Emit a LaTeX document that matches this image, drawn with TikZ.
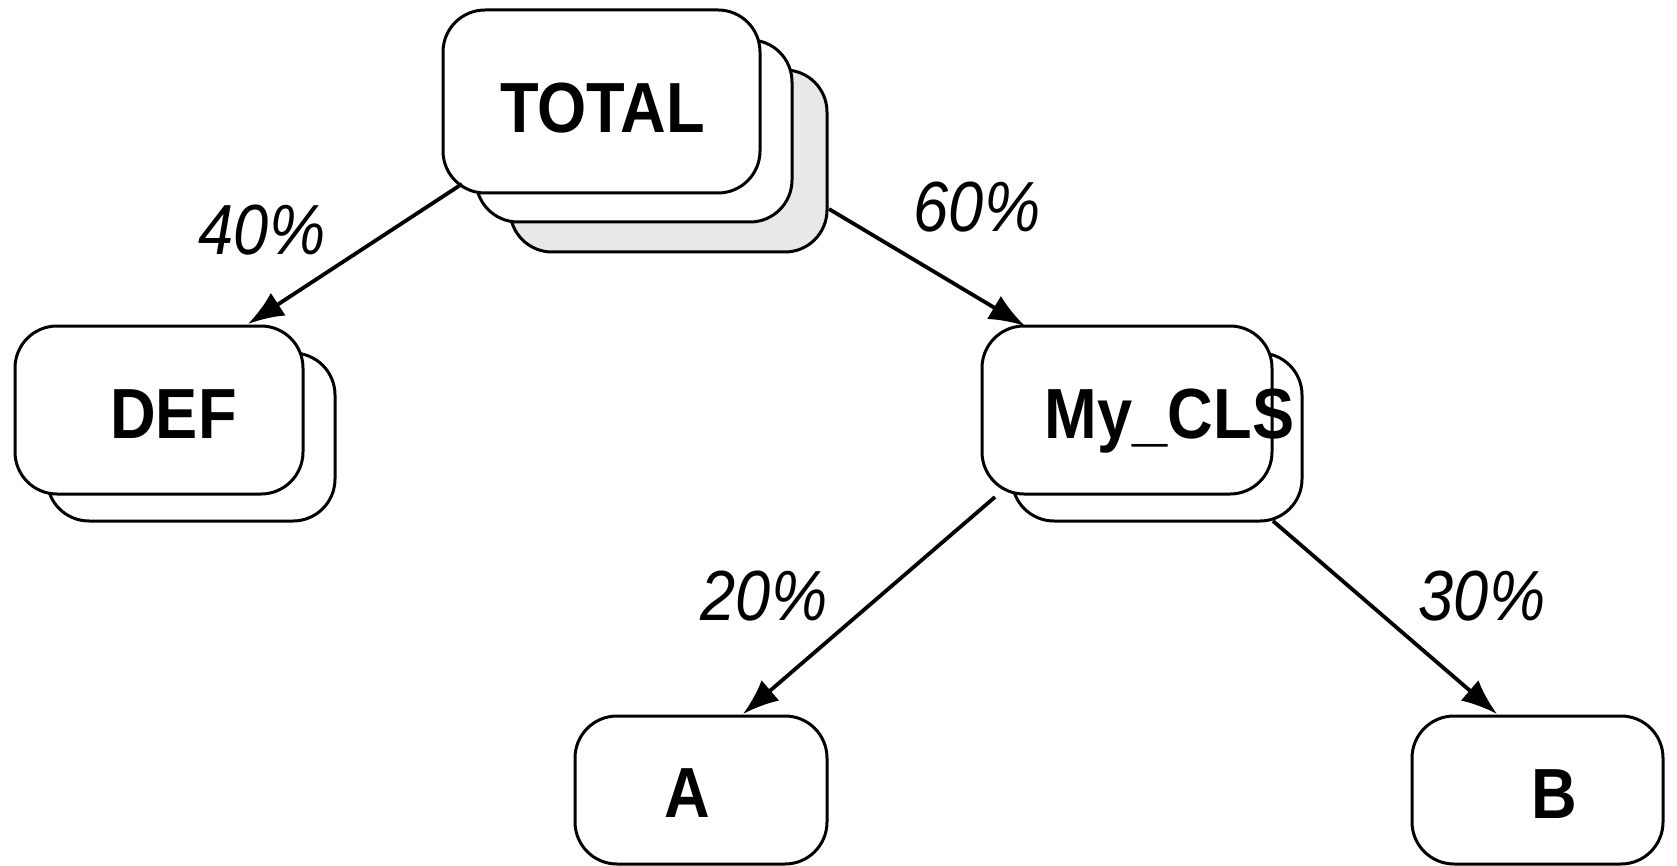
\documentclass[tikz,border=0pt]{standalone}
\usepackage{fontspec}
\setmainfont{Liberation Sans}
\usepackage{graphicx}
\usetikzlibrary{arrows.meta,calc}
\begin{document}
\begin{tikzpicture}[x=1pt,y=-1pt,
  box/.style={draw=black,line width=3pt,rounded corners=42pt,outer sep=0pt,inner sep=0pt},
  backbox/.style={box,fill=gray!18},
  frontbox/.style={box,fill=white},
  txt/.style={inner sep=0pt,outer sep=0pt,anchor=base,font=\fontsize{71}{80}\selectfont\bfseries},
  pct/.style={inner sep=0pt,outer sep=0pt,anchor=base,font=\fontsize{71}{80}\selectfont\itshape},
  arr/.style={line width=3.8pt,-{Latex[length=36pt,width=27pt]}}]
\useasboundingbox (0,0) rectangle (1677,866);
% TOTAL stack
\node[backbox,minimum width=317pt,minimum height=182pt] (totalB) at (668.5,161) {};
\node[frontbox,minimum width=316pt,minimum height=182pt] (totalM) at (634,131) {};
\node[frontbox,minimum width=317pt,minimum height=183pt] (totalF) at (601.5,101.5) {};
\node[txt] (ttotal) at (602.5,133) {\scalebox{0.89}[1]{TOTAL}};
% DEF
\node[frontbox,minimum width=288pt,minimum height=168pt] (defB) at (191,437) {};
\node[frontbox,minimum width=288pt,minimum height=168pt] (def) at (159,410) {};
\node[txt] (tdef) at (173.5,438) {\scalebox{0.89}[1]{DEF}};
% My_CLS
\node[frontbox,minimum width=290pt,minimum height=168pt] (clsB) at (1157,437) {};
\node[frontbox,minimum width=290pt,minimum height=168pt] (cls) at (1127,410) {};
\node[txt] (tcls) at (1169.5,438) {\scalebox{0.89}[1]{My\_CLS}};
% A and B
\node[frontbox,minimum width=252pt,minimum height=148pt] (a) at (701,790) {};
\node[txt] (ta) at (687.5,817) {\scalebox{0.89}[1]{A}};
\node[frontbox,minimum width=251pt,minimum height=148pt] (b) at (1537.5,790) {};
\node[txt] (tb) at (1554,818) {\scalebox{0.89}[1]{B}};
% arrows
\draw[arr] ($(totalF.south west)+(19,-9)$) -- ($(def.north)+(89,-2)$);
\draw[arr] ($(totalB.east)+(2,48)$) -- ($(cls.north)+(-102,0)$);
\draw[arr] ($(cls.south west)+(13,3)$) -- ($(a.north)+(42,-2)$);
\draw[arr] ($(clsB.south east)+(-29,0)$) -- ($(b.north)+(-40.5,-2)$);
% labels
\node[pct] (p40) at (262,255) {\scalebox{0.89}[1]{40\%}};
\node[pct] (p60) at (977,232) {\scalebox{0.89}[1]{60\%}};
\node[pct] (p20) at (764,620) {\scalebox{0.89}[1]{20\%}};
\node[pct] (p30) at (1482,620) {\scalebox{0.89}[1]{30\%}};
\end{tikzpicture}
\end{document}
